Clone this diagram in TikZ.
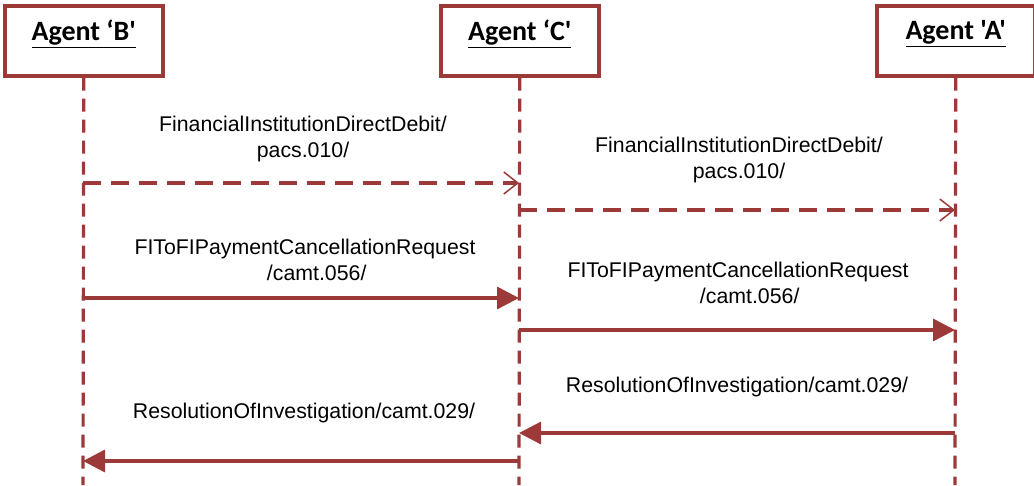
\documentclass[tikz,border=0pt]{standalone}
\usepackage{fontspec}
\setmainfont{Liberation Sans}
\newfontfamily\agentfont{Carlito}
\usetikzlibrary{arrows.meta,shadows}
\definecolor{lifered}{RGB}{155,58,56}
\begin{document}
\begin{tikzpicture}[x=1pt,y=-1pt,
  agent/.style={draw=lifered, line width=3.5pt, fill=white, minimum width=158pt, minimum height=70pt,
    inner sep=0pt, anchor=north west, font=\agentfont\bfseries\fontsize{28}{30}\selectfont,
    drop shadow={shadow xshift=1.5pt, shadow yshift=-1.5pt, fill=black!25}},
  lifeline/.style={draw=lifered, line width=3.2pt, dash pattern=on 13pt off 8pt},
  asyncmsg/.style={draw=lifered, line width=3.4pt, dash pattern=on 18pt off 10pt,
    -{Straight Barb[length=14pt,width=22pt,line width=1.5pt]}},
  syncmsg/.style={draw=lifered, line width=3.4pt, -{Triangle[length=22pt,width=22pt]}},
  lbl/.style={font=\fontsize{21.3}{26}\selectfont, align=center, text=black}]
\useasboundingbox (0,0) rectangle (1034,485);
% agents
\node[agent] (B) at (3,4) {\raisebox{21pt}{\underline{Agent ‘B'}}};
\node[agent] (C) at (439,4) {\raisebox{21pt}{\underline{Agent ‘C'}}};
\node[agent] (A) at (875,4) {\raisebox{21pt}{\underline{Agent 'A'}}};
% lifeline ends
\coordinate (Bend) at (83,485);
\coordinate (Cend) at (519,485);
\coordinate (Aend) at (955,485);
\draw[lifeline] (B.south) -- (Bend);
\draw[lifeline] (C.south) -- (Cend);
\draw[lifeline] (A.south) -- (Aend);
% message points
\coordinate (b1) at (83,183);  \coordinate (c1) at (519,183);
\coordinate (c2) at (519,210); \coordinate (a2) at (955,210);
\coordinate (b3) at (83,298);  \coordinate (c3) at (519,298);
\coordinate (c4) at (519,330); \coordinate (a4) at (955,330);
\coordinate (a5) at (955,433); \coordinate (c5) at (519,433);
\coordinate (c6) at (519,461); \coordinate (b6) at (83,461);
% messages
\draw[asyncmsg] (b1) -- (c1);
\draw[asyncmsg] (c2) -- (a2);
\draw[syncmsg] (b3) -- (c3);
\draw[syncmsg] (c4) -- (a4);
\draw[syncmsg] (a5) -- (c5);
\draw[syncmsg] (c6) -- (b6);
% labels
\node[lbl] (l1) at (303,139) {FinancialInstitutionDirectDebit/\\pacs.010/};
\node[lbl] (l2) at (739,160) {FinancialInstitutionDirectDebit/\\pacs.010/};
\node[lbl] (l3) at (305,260) {FIToFIPaymentCancellationRequest\\\hspace*{1.1em}/camt.056/};
\node[lbl] (l4) at (738,283) {FIToFIPaymentCancellationRequest\\\hspace*{1.1em}/camt.056/};
\node[lbl] (l5) at (737,387) {ResolutionOfInvestigation/camt.029/};
\node[lbl] (l6) at (304,413) {ResolutionOfInvestigation/camt.029/};
\end{tikzpicture}
\end{document}
